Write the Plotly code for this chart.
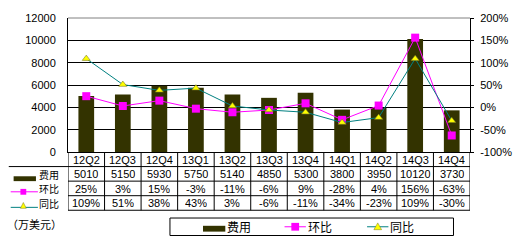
import plotly.graph_objects as go

categories = ["12Q2", "12Q3", "12Q4", "13Q1", "13Q2", "13Q3", "13Q4", "14Q1", "14Q2", "14Q3", "14Q4"]
cost = [5010, 5150, 5930, 5750, 5140, 4850, 5300, 3800, 3950, 10120, 3730]
qoq = [25, 3, 15, -3, -11, -6, 9, -28, 4, 156, -63]
yoy = [109, 51, 38, 43, 3, -6, -11, -34, -23, 109, -30]
left_ticks = [0, 2000, 4000, 6000, 8000, 10000, 12000]
right_ticks = [-100, -50, 0, 50, 100, 150, 200]

W_PX, H_PX = 524, 243
L, R, T, B = 68, 482, 14, 152
PW, PH = R - L, B - T

def px(x):
    return (x - L) / PW

def py(y):
    return (B - y) / PH

BAR = "#333300"
MAG = "#FF00FF"
TEAL = "#008080"
YEL = "#FFFF00"
FONT = "Liberation Sans, Noto Sans CJK SC, sans-serif"
CJK = "Noto Sans CJK SC, sans-serif"

fig = go.Figure()
fig.add_trace(go.Bar(x=categories, y=cost, name="费用", marker=dict(color=BAR, line=dict(width=0)),
                     width=0.43, yaxis="y"))
fig.add_trace(go.Scatter(x=categories, y=qoq, name="环比", mode="lines+markers", yaxis="y2",
                         line=dict(color=MAG, width=1),
                         marker=dict(symbol="square", size=8, color=MAG)))
fig.add_trace(go.Scatter(x=categories, y=yoy, name="同比", mode="lines+markers", yaxis="y2",
                         line=dict(color=TEAL, width=1),
                         marker=dict(symbol="triangle-up", size=7, color=YEL,
                                     line=dict(color="#7a7a20", width=0.6))))

shapes = []
annotations = []
n = len(categories)

# table grid lines
for yy in [167, 182, 197, 212]:
    x0 = 7 if yy == 167 else L
    shapes.append(dict(type="line", xref="paper", yref="paper", x0=px(x0), x1=px(R),
                       y0=py(yy), y1=py(yy), line=dict(color="black", width=1)))
for k in range(n + 1):
    shapes.append(dict(type="line", xref="x", yref="paper", x0=k - 0.5, x1=k - 0.5,
                       y0=py(B), y1=py(212), line=dict(color="black", width=1)))
# top border of plot area (gray)
shapes.append(dict(type="line", xref="paper", yref="paper", x0=0, x1=1, y0=1, y1=1,
                   line=dict(color="#808080", width=1)))

# table header + values (category labels sit in the header row)
rows = [(159.5, categories),
        (174.5, [str(v) for v in cost]),
        (189.5, [f"{v}%" for v in qoq]),
        (204.5, [f"{v}%" for v in yoy])]
for yy, texts in rows:
    for c, t in zip(categories, texts):
        annotations.append(dict(x=c, xref="x", y=py(yy), yref="paper", text=t, showarrow=False,
                                font=dict(size=11, color="black", family=FONT),
                                xanchor="center", yanchor="middle", height=13))

# row label keys
shapes.append(dict(type="rect", xref="paper", yref="paper", x0=px(12), x1=px(35), y0=py(182), y1=py(177),
                   fillcolor=BAR, line=dict(width=0)))
shapes.append(dict(type="line", xref="paper", yref="paper", x0=px(9), x1=px(37), y0=py(193), y1=py(193),
                   line=dict(color=MAG, width=1)))
shapes.append(dict(type="rect", xref="paper", yref="paper", x0=px(19), x1=px(25), y0=py(196), y1=py(190),
                   fillcolor=MAG, line=dict(width=0)))
shapes.append(dict(type="line", xref="paper", yref="paper", x0=px(9), x1=px(37), y0=py(209), y1=py(209),
                   line=dict(color=TEAL, width=1)))
shapes.append(dict(type="path", xref="paper", yref="paper",
                   path=f"M {px(19)} {py(210)} L {px(25)} {py(210)} L {px(22)} {py(204)} Z",
                   fillcolor=YEL, line=dict(color="#7a7a20", width=0.5)))
for yy, t in [(175, "费用"), (190, "环比"), (205, "同比")]:
    annotations.append(dict(x=px(61), xref="paper", y=py(yy), yref="paper", text=t, showarrow=False,
                            font=dict(size=10, color="black", family=CJK),
                            xanchor="right", yanchor="middle", height=13))
annotations.append(dict(x=px(3), xref="paper", y=py(226), yref="paper", text="（万美元）", showarrow=False,
                        font=dict(size=11, color="black", family=CJK), xanchor="left", yanchor="middle"))

# legend box
shapes.append(dict(type="rect", xref="paper", yref="paper", x0=px(173), x1=px(465), y0=py(238), y1=py(220),
                   fillcolor="white", line=dict(color="black", width=1)))
shapes.append(dict(type="rect", xref="paper", yref="paper", x0=px(207), x1=px(230), y0=py(234), y1=py(228),
                   fillcolor=BAR, line=dict(width=0)))
shapes.append(dict(type="line", xref="paper", yref="paper", x0=px(291), x1=px(313), y0=py(229), y1=py(229),
                   line=dict(color=MAG, width=1)))
shapes.append(dict(type="rect", xref="paper", yref="paper", x0=px(298), x1=px(306), y0=py(233), y1=py(225),
                   fillcolor=MAG, line=dict(width=0)))
shapes.append(dict(type="line", xref="paper", yref="paper", x0=px(376), x1=px(398), y0=py(229), y1=py(229),
                   line=dict(color=TEAL, width=1)))
shapes.append(dict(type="path", xref="paper", yref="paper",
                   path=f"M {px(383)} {py(232)} L {px(391)} {py(232)} L {px(387)} {py(225)} Z",
                   fillcolor=YEL, line=dict(color="#7a7a20", width=0.5)))
for x0, t in [(230, "费用"), (313, "环比"), (398, "同比")]:
    annotations.append(dict(x=px(x0), xref="paper", y=py(229), yref="paper", text=t, showarrow=False,
                            font=dict(size=12, color="black", family=CJK), xanchor="left", yanchor="middle"))

fig.update_layout(
    width=W_PX, height=H_PX,
    margin=dict(l=L, r=W_PX - R, t=T, b=H_PX - B, pad=0),
    paper_bgcolor="white", plot_bgcolor="white",
    showlegend=False,
    bargap=0.57,
    font=dict(family=FONT, size=11, color="black"),
    xaxis=dict(type="category", categoryorder="array", categoryarray=categories,
               showline=True, linecolor="black", linewidth=1, ticks="", showgrid=False,
               showticklabels=False, range=[-0.5, n - 0.5], fixedrange=True),
    yaxis=dict(range=[0, 12000], tickvals=left_ticks, ticktext=[str(v) for v in left_ticks],
               showgrid=True, gridcolor="black", gridwidth=1,
               showline=True, linecolor="black", linewidth=1, ticks="", zeroline=False,
               ticklabelstandoff=9, tickfont=dict(size=11, family=FONT, color="black")),
    yaxis2=dict(range=[-100, 200], tickvals=right_ticks, ticktext=[f"{v}%" for v in right_ticks],
                overlaying="y", side="right", showgrid=False, zeroline=False,
                showline=True, linecolor="black", linewidth=1, ticks="outside", ticklen=3,
                tickcolor="black", ticklabelstandoff=4,
                tickfont=dict(size=11, family=FONT, color="black")),
    shapes=shapes,
    annotations=annotations,
)

fig.write_html("out.html")
